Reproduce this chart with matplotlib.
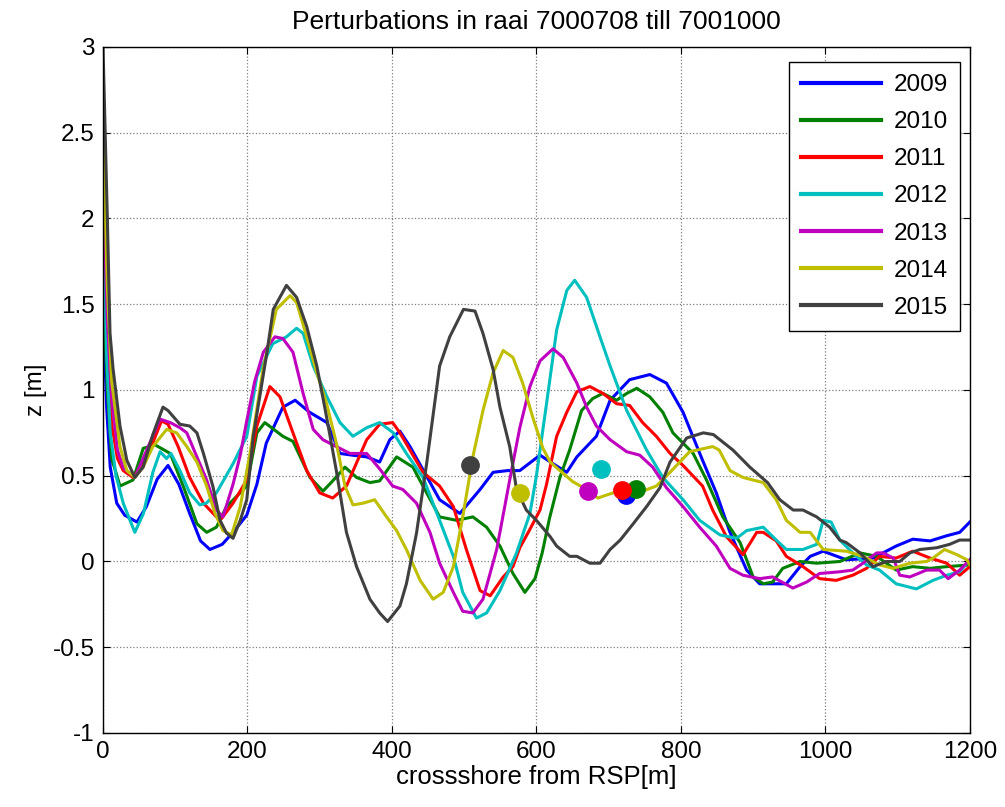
import matplotlib
matplotlib.use("Agg")
import matplotlib.pyplot as plt

plt.rcParams['font.family'] = ['Liberation Sans', 'DejaVu Sans']

# ==========================================
# DATI
# ==========================================

ANNI   = ['2009', '2010', '2011', '2012', '2013', '2014', '2015']
COLORI = ['#0000FF', '#008000', '#FF0000', '#00BFBF', '#BF00BF', '#BFBF00', '#404040']

x_2009 = [0, 5, 10, 19, 30, 47, 60, 75, 90, 105, 120, 135, 148, 165, 180, 199, 213, 226,
          249, 266, 286, 310, 328, 345, 365, 383, 397, 411, 425, 445, 466, 494, 522, 540,
          560, 577, 605, 623, 642, 656, 683, 702, 729, 757, 780, 803, 830, 849, 868, 891,
          909, 946, 965, 979, 997, 1029, 1066, 1098, 1121, 1145, 1168, 1186, 1200]
z_2009 = [1.5, 0.9, 0.55, 0.34, 0.27, 0.23, 0.32, 0.48, 0.56, 0.45, 0.28, 0.12, 0.07, 0.10,
          0.17, 0.27, 0.45, 0.69, 0.90, 0.94, 0.87, 0.81, 0.63, 0.62, 0.61, 0.58, 0.71, 0.76,
          0.67, 0.52, 0.36, 0.28, 0.42, 0.52, 0.53, 0.53, 0.62, 0.57, 0.52, 0.61, 0.73, 0.94,
          1.06, 1.09, 1.04, 0.87, 0.59, 0.40, 0.17, -0.05, -0.13, -0.13, -0.03, 0.03, 0.06,
          0.01, 0.02, 0.09, 0.13, 0.12, 0.15, 0.17, 0.23]

x_2010 = [0, 6, 12, 23.5, 41.5, 55.7, 72, 93, 111, 130, 143.5, 157, 171, 199, 213, 224, 249,
          263, 286.5, 304.5, 318, 335, 351, 369.5, 383, 406.5, 429, 448, 466, 489.5, 512, 531,
          549.5, 567.5, 584, 598, 608, 618, 632.5, 646, 662.5, 678, 692, 711, 725, 739, 757,
          775, 789, 817, 835.5, 858, 882, 900, 914, 927, 941, 965, 988, 1020, 1048, 1071,
          1098, 1121, 1145, 1168, 1200]
z_2010 = [1.6, 1.0, 0.6, 0.44, 0.475, 0.66, 0.68, 0.63, 0.44, 0.22, 0.17, 0.20, 0.32, 0.44,
          0.75, 0.81, 0.73, 0.70, 0.49, 0.41, 0.47, 0.55, 0.49, 0.46, 0.47, 0.61, 0.55, 0.40,
          0.26, 0.24, 0.26, 0.20, 0.09, -0.07, -0.18, -0.10, 0.05, 0.25, 0.49, 0.65, 0.88,
          0.95, 0.98, 0.94, 0.98, 1.01, 0.96, 0.87, 0.75, 0.63, 0.475, 0.26, 0.11, -0.09,
          -0.13, -0.12, -0.04, 0.0, -0.01, 0.0, 0.05, 0.03, -0.05, -0.03, -0.04, -0.03, -0.02]

x_2011 = [0, 6, 12, 20, 28, 41.5, 47, 65, 81, 90, 104, 120, 139, 157, 164, 180, 199, 213,
          231, 245, 263, 282, 300, 318, 337, 365, 383, 401, 411, 443, 466, 485, 503, 522, 536,
          554, 567.5, 577, 590, 605, 614, 628, 642, 656, 674, 692, 711, 729, 747, 766, 785,
          803, 830, 844, 863, 886, 905, 914, 932, 946, 969, 992, 1015, 1038, 1057, 1075,
          1098, 1121, 1145, 1168, 1186, 1200]
z_2011 = [2.1, 1.2, 0.8, 0.6, 0.53, 0.49, 0.52, 0.65, 0.82, 0.80, 0.67, 0.49, 0.34, 0.26,
          0.25, 0.34, 0.475, 0.79, 1.02, 0.96, 0.75, 0.53, 0.40, 0.37, 0.44, 0.71, 0.80, 0.81,
          0.75, 0.52, 0.44, 0.32, 0.07, -0.17, -0.20, -0.09, -0.03, 0.08, 0.18, 0.30, 0.45,
          0.73, 0.87, 0.99, 1.02, 0.98, 0.92, 0.91, 0.81, 0.73, 0.63, 0.56, 0.44, 0.30,
          0.145, 0.04, 0.17, 0.17, 0.12, 0.03, -0.03, -0.10, -0.11, -0.08, -0.04, 0.03, 0.02,
          0.06, 0.02, -0.01, -0.08, -0.03]

x_2012 = [0, 5, 10, 18, 28, 44, 56, 69, 79, 88, 94, 106.5, 120, 134, 143, 157, 180, 199,
          213, 235, 254, 268, 277, 291, 310, 328, 346, 365, 383, 402, 420, 443, 466, 485, 498,
          517, 531, 549.5, 572.5, 591, 600, 614, 628, 642, 653, 669.5, 688, 702, 725, 752.5,
          775, 803, 826, 854, 877, 891, 914, 932, 946, 969, 988, 997, 1008, 1020, 1038, 1057,
          1075, 1098, 1126, 1149, 1168, 1186, 1200]
z_2012 = [1.9, 1.2, 0.75, 0.50, 0.34, 0.17, 0.28, 0.52, 0.64, 0.60, 0.63, 0.53, 0.40, 0.33,
          0.34, 0.40, 0.57, 0.73, 1.08, 1.27, 1.31, 1.36, 1.33, 1.14, 0.96, 0.81, 0.73, 0.78,
          0.81, 0.75, 0.63, 0.49, 0.24, 0.03, -0.18, -0.33, -0.30, -0.17, 0.05, 0.28, 0.50,
          0.92, 1.35, 1.58, 1.64, 1.54, 1.31, 1.14, 0.88, 0.65, 0.49, 0.36, 0.24, 0.155, 0.135,
          0.18, 0.20, 0.125, 0.07, 0.07, 0.10, 0.24, 0.23, 0.125, 0.05, -0.02, -0.05, -0.13,
          -0.16, -0.11, -0.08, -0.06, 0.01]

x_2013 = [0, 6, 12, 20, 28, 44, 60.5, 79, 93, 106.5, 116, 130, 143.5, 157, 166, 180, 190,
          199, 210, 222, 238, 249, 263, 277, 291, 304.5, 323, 342, 365, 383, 401, 415, 434,
          452.6, 466, 485, 498, 512, 526, 545, 563, 577, 591, 605, 623, 637, 656, 669.5, 683,
          702, 725, 743, 761, 780, 803, 826, 849, 868, 886, 909, 927, 955, 974, 992, 1020,
          1038, 1052, 1071, 1080, 1094, 1103, 1117, 1140, 1158, 1170, 1186, 1200]
z_2013 = [2.2, 1.4, 0.95, 0.65, 0.545, 0.49, 0.65, 0.83, 0.81, 0.78, 0.75, 0.61, 0.475,
          0.30, 0.26, 0.45, 0.62, 0.82, 1.05, 1.22, 1.31, 1.30, 1.22, 0.98, 0.77, 0.71, 0.67,
          0.63, 0.63, 0.54, 0.44, 0.42, 0.34, 0.17, -0.01, -0.18, -0.29, -0.30, -0.22, 0.07,
          0.475, 0.78, 1.02, 1.17, 1.24, 1.19, 1.04, 0.90, 0.79, 0.71, 0.64, 0.62, 0.55, 0.43,
          0.32, 0.20, 0.09, -0.04, -0.08, -0.10, -0.09, -0.155, -0.12, -0.07, -0.06, -0.05,
          -0.01, 0.05, 0.05, 0.02, -0.08, -0.09, -0.05, -0.05, -0.10, -0.05, 0.01]

x_2014 = [0, 6, 12, 23.5, 33, 44, 55.5, 69, 88, 102, 116, 130, 143.5, 155, 166, 178, 190,
          203.5, 221.5, 240, 259, 268, 282, 296, 309.6, 323, 335, 346, 360, 376, 392.6, 406.5,
          420, 439, 457, 471, 485, 498, 512, 526, 540, 554, 567.5, 581, 595, 609, 619, 632.5,
          650.5, 669.5, 685, 706, 729, 747, 766, 785, 812, 844, 853, 868, 886, 914, 932, 946,
          965, 979, 997, 1029, 1052, 1075, 1094, 1117, 1140, 1149, 1165, 1182, 1196, 1200]
z_2014 = [2.5, 1.6, 1.05, 0.67, 0.53, 0.49, 0.55, 0.67, 0.77, 0.75, 0.67, 0.58, 0.44, 0.28,
          0.18, 0.155, 0.32, 0.63, 1.12, 1.47, 1.55, 1.51, 1.31, 1.10, 0.92, 0.69, 0.44, 0.33,
          0.34, 0.36, 0.26, 0.18, 0.07, -0.11, -0.22, -0.18, -0.03, 0.26, 0.61, 0.88, 1.10,
          1.23, 1.19, 1.04, 0.84, 0.66, 0.58, 0.53, 0.465, 0.42, 0.37, 0.40, 0.41, 0.41, 0.44,
          0.52, 0.64, 0.67, 0.65, 0.53, 0.49, 0.46, 0.36, 0.24, 0.17, 0.17, 0.07, 0.06, 0.03,
          -0.02, -0.04, -0.01, 0.0, 0.02, 0.07, 0.04, 0.01, -0.02]

x_2015 = [0, 3, 6, 9.7, 14, 23.5, 33, 44, 55.5, 69, 83, 90, 106.5, 120, 130, 139, 152, 162,
          171, 180, 190, 199, 208, 226.6, 235.7, 254, 268, 282, 296, 309.6, 323, 337, 351,
          369.5, 383, 394, 411, 420, 434, 448, 466, 480, 499, 515, 526, 540, 549.5, 563, 572.5,
          586, 600, 619, 628, 646, 656, 674, 688, 702, 716, 734, 752.5, 771, 785, 808, 831,
          845, 872, 895.5, 920, 937, 955.5, 969, 988, 1006, 1020, 1029, 1048, 1066, 1084,
          1103, 1117, 1131, 1154, 1172, 1186, 1200]
z_2015 = [3.0, 2.5, 2.0, 1.33, 1.12, 0.79, 0.59, 0.49, 0.55, 0.74, 0.90, 0.88, 0.80, 0.79,
          0.75, 0.63, 0.44, 0.24, 0.165, 0.135, 0.24, 0.36, 0.73, 1.21, 1.47, 1.61, 1.54,
          1.37, 1.14, 0.84, 0.53, 0.17, -0.03, -0.22, -0.30, -0.35, -0.26, -0.13, 0.165, 0.57,
          1.14, 1.31, 1.47, 1.46, 1.33, 1.12, 0.90, 0.67, 0.42, 0.30, 0.24, 0.145, 0.09, 0.03,
          0.03, -0.01, -0.01, 0.07, 0.125, 0.22, 0.32, 0.43, 0.58, 0.72, 0.75, 0.74, 0.65,
          0.55, 0.46, 0.36, 0.30, 0.30, 0.26, 0.20, 0.125, 0.11, 0.05, -0.03, 0.0, 0.0, 0.05,
          0.07, 0.08, 0.10, 0.125, 0.125]

X_CURVE = [x_2009, x_2010, x_2011, x_2012, x_2013, x_2014, x_2015]
Z_CURVE = [z_2009, z_2010, z_2011, z_2012, z_2013, z_2014, z_2015]

# punti (pallini) per anno
x_punti = [724, 738, 718, 690, 672, 577, 508]
z_punti = [0.39, 0.42, 0.415, 0.54, 0.41, 0.40, 0.56]

Y_TICKS  = [-1, -0.5, 0, 0.5, 1, 1.5, 2, 2.5, 3]
Y_LABELS = ['-1', '-0.5', '0', '0.5', '1', '1.5', '2', '2.5', '3']
X_TICKS  = [0, 200, 400, 600, 800, 1000, 1200]

FS = 17.5

# ==========================================
# GRAFICO
# ==========================================

fig = plt.figure(figsize=(10.05, 8.07), dpi=100)
ax = fig.add_axes([0.1025, 0.0917, 0.8625, 0.8501])

for x, z, anno, col in zip(X_CURVE, Z_CURVE, ANNI, COLORI):
    ax.plot(x, z, color=col, linewidth=2.2, label=anno)

for xp, zp, col in zip(x_punti, z_punti, COLORI):
    ax.plot(xp, zp, 'o', color=col, markersize=12.5, zorder=5)

ax.set_xlim(0, 1200)
ax.set_ylim(-1, 3)
ax.set_xticks(X_TICKS)
ax.set_xticklabels([str(t) for t in X_TICKS])
ax.set_yticks(Y_TICKS)
ax.set_yticklabels(Y_LABELS)
ax.tick_params(direction='in', length=5, top=True, right=True, labelsize=FS, pad=6)
ax.grid(True, linestyle=':', color='#7f7f7f', linewidth=0.9)
for sp in ax.spines.values():
    sp.set_linewidth(1.0)

ax.set_xlabel('crossshore from RSP[m]', fontsize=18.5, labelpad=1)
ax.set_ylabel('z [m]', fontsize=FS, labelpad=4)
ax.set_title('Perturbations in raai 7000708 till 7001000', fontsize=19, pad=13)

leg = ax.legend(loc='upper right', bbox_to_anchor=(0.9885, 0.978), borderaxespad=0,
                fontsize=FS, fancybox=False, framealpha=1, edgecolor='black',
                handlelength=3.3, handletextpad=0.5, labelspacing=0.62, borderpad=0.5)
leg.get_frame().set_linewidth(1.0)
for l in leg.get_lines():
    l.set_linewidth(3)

fig.savefig('out.png', dpi=100)
